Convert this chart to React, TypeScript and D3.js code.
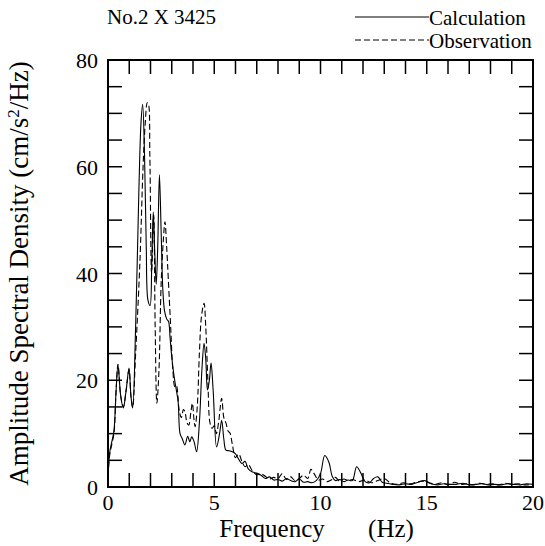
import React from "react";
import * as d3 from "d3";

const calcFreq = [0, 0.08, 0.18, 0.28, 0.38, 0.47, 0.6, 0.72, 0.85, 0.99, 1.08, 1.16, 1.3, 1.45, 1.55, 1.63, 1.72, 1.8, 1.88, 1.98, 2.06, 2.13, 2.2, 2.27, 2.34, 2.42, 2.5, 2.58, 2.66, 2.76, 2.85, 2.92, 3.0, 3.1, 3.2, 3.3, 3.39, 3.5, 3.62, 3.75, 3.85, 3.94, 4.05, 4.17, 4.3, 4.42, 4.52, 4.6, 4.68, 4.77, 4.85, 4.95, 5.11, 5.25, 5.35, 5.45, 5.55, 5.7, 5.85,
  6.0, 6.15, 6.3, 6.45, 6.6, 6.8, 7.0, 7.2, 7.4, 7.6, 7.8, 8.0, 8.2, 8.4, 8.6, 8.8, 9.0, 9.2, 9.4, 9.6, 9.8, 10.0, 10.2, 10.4, 10.55, 10.7, 10.9, 11.1, 11.3, 11.5, 11.7, 11.9, 12.1, 12.3, 12.5, 12.7, 12.9, 13.1, 13.4, 13.7, 14.0, 14.3, 14.6, 14.9, 15.2, 15.5, 15.8, 16.1, 16.4, 16.7, 17.0, 17.3, 17.6, 17.9, 18.2, 18.5, 18.8, 19.1, 19.4, 19.7, 20];
const calcValues = [2, 6.5, 8.5, 10.5, 18, 22.8, 17, 14.8, 18, 22.3, 17, 14.8, 30, 55, 68, 71.7, 62, 45, 35, 34, 42, 51.5, 44, 38, 45, 58.5, 48, 37, 33, 31.5, 31, 28, 24.4, 21, 18.5, 16, 10, 9, 7.9, 9.5, 8.5, 9.4, 8.5, 6.6, 12, 22, 26.9, 24, 18.2, 20, 23.2, 18, 7.5, 10, 12.5, 9, 6.9, 6.8, 6.6,
  6.2, 5.2, 4.4, 4.8, 3.4, 2.8, 2.6, 2.2, 1.6, 1.9, 1.3, 1.4, 1.1, 1.6, 1.2, 1.0, 1.5, 0.9, 1.0, 0.8, 1.2, 2.5, 5.9, 4.6, 2.0, 1.2, 1.4, 1.0, 1.3, 1.2, 3.8, 2.6, 1.0, 0.8, 1.6, 1.9, 0.9, 0.7, 0.5, 0.4, 0.6, 0.5, 0.9, 1.2, 0.6, 0.4, 0.6, 0.5, 0.5, 0.7, 0.4, 0.5, 0.6, 0.4, 0.5, 0.4, 0.6, 0.5, 0.4, 0.6, 0.5];

const obsFreq = [0, 0.08, 0.18, 0.28, 0.38, 0.47, 0.6, 0.72, 0.85, 0.99, 1.08, 1.16, 1.3, 1.5, 1.65, 1.75, 1.85, 1.9, 1.97, 2.05, 2.15, 2.22, 2.3, 2.4, 2.5, 2.6, 2.68, 2.76, 2.84, 2.95, 3.05, 3.15, 3.22, 3.27, 3.35, 3.45, 3.55, 3.62, 3.72, 3.8, 3.9, 3.97, 4.05, 4.1, 4.2, 4.3, 4.4, 4.52, 4.6, 4.7, 4.8, 4.9, 5.0, 5.1, 5.2, 5.35, 5.45, 5.55, 5.65, 5.74, 5.85,
  6.0, 6.15, 6.3, 6.45, 6.6, 6.8, 7.0, 7.2, 7.4, 7.6, 7.8, 8.0, 8.2, 8.4, 8.6, 8.8, 9.0, 9.2, 9.4, 9.55, 9.7, 9.9, 10.1, 10.3, 10.5, 10.7, 10.9, 11.1, 11.3, 11.5, 11.8, 12.1, 12.4, 12.7, 13.0, 13.3, 13.6, 13.9, 14.2, 14.5, 14.8, 15.1, 15.4, 15.7, 16.0, 16.3, 16.6, 16.9, 17.2, 17.5, 17.8, 18.1, 18.4, 18.7, 19.0, 19.3, 19.6, 20];
const obsValues = [2, 6, 8, 10, 18, 23, 17, 15, 18, 22, 17, 15, 25, 42, 60, 68, 72, 71.8, 62, 40, 51, 30, 15.7, 22, 38, 46, 49.7, 45, 38.8, 30, 22, 18.8, 19, 18, 14.4, 13, 14.5, 14.1, 12, 11.6, 14, 15.7, 12.5, 11.3, 15, 25, 32, 34.4, 30, 20, 12, 11, 11.5, 10, 12, 16.6, 13, 12, 10.5, 10.1, 8,
  5.5, 6.2, 4.8, 3.8, 4.2, 3.0, 2.3, 2.5, 2.0, 1.5, 1.8, 1.6, 2.5, 1.4, 1.9, 1.2, 1.6, 2.2, 1.6, 3.3, 2.5, 1.3, 1.5, 1.0, 1.3, 1.8, 1.1, 1.5, 1.2, 1.4, 1.0, 1.3, 0.8, 1.2, 1.6, 0.7, 0.5, 0.8, 0.6, 0.9, 1.1, 0.8, 0.5, 0.8, 0.4, 0.9, 0.5, 0.6, 0.4, 0.7, 0.5, 0.6, 0.4, 0.7, 0.5, 0.6, 0.4, 0.5];

const xTickLabels = [0, 5, 10, 15, 20];
const yTickLabels = [0, 20, 40, 60, 80];
const titleText = "No.2 X 3425";
const seriesNames = ["Calculation", "Observation"];

const W = 545, H = 546;
const L = 108, R = 533, T = 60, B = 487;
const FONT = '"Liberation Serif"';
const ff = { fontFamily: FONT };

export default function App() {
  const x = d3.scaleLinear().domain([0, 20]).range([L, R]);
  const y = d3.scaleLinear().domain([0, 80]).range([B, T]);
  const line = d3.line<[number, number]>()
    .x(d => x(d[0]))
    .y(d => y(Math.max(0, d[1])))
    .curve(d3.curveCatmullRom.alpha(0.5));
  const calcPts: [number, number][] = calcFreq.map((f, i) => [f, calcValues[i]]);
  const obsPts: [number, number][] = obsFreq.map((f, i) => [f, obsValues[i]]);
  const xMinor = d3.range(1, 20, 1);
  const yMinor = d3.range(5, 80, 5);
  const tk = 14;
  return (
    <svg width={W} height={H} style={{ display: "block", position: "absolute", left: 0, top: 0 }}>
      <rect width={W} height={H} fill="#fff" />
      <defs>
        <clipPath id="plot"><rect x={L} y={T} width={R - L} height={B - T} /></clipPath>
      </defs>
      <text x={107} y={24} style={ff} fontSize={21}>{titleText}</text>
      <line x1={355} x2={429} y1={17} y2={17} stroke="#000" strokeWidth={1} />
      <text x={429} y={25} style={ff} fontSize={21}>{seriesNames[0]}</text>
      <line x1={355} x2={429} y1={40} y2={40} stroke="#000" strokeWidth={1} strokeDasharray="6,3" />
      <text x={429} y={48} style={ff} fontSize={21}>{seriesNames[1]}</text>

      {xMinor.map(v => (
        <g key={"xt" + v}>
          <line x1={x(v)} x2={x(v)} y1={B} y2={B - tk} stroke="#000" strokeWidth={1.5} />
          <line x1={x(v)} x2={x(v)} y1={T} y2={T + tk} stroke="#000" strokeWidth={1.5} />
        </g>
      ))}
      {yMinor.map(v => (
        <g key={"yt" + v}>
          <line x1={L} x2={L + tk} y1={y(v)} y2={y(v)} stroke="#000" strokeWidth={1.5} />
          <line x1={R} x2={R - tk} y1={y(v)} y2={y(v)} stroke="#000" strokeWidth={1.5} />
        </g>
      ))}
      <g clipPath="url(#plot)">
        <path d={line(obsPts) || ""} fill="none" stroke="#000" strokeWidth={1.1} strokeDasharray="6,3" />
        <path d={line(calcPts) || ""} fill="none" stroke="#000" strokeWidth={1.1} />
      </g>
      <rect x={L} y={T} width={R - L} height={B - T} fill="none" stroke="#000" strokeWidth={2} />

      {xTickLabels.map(v => (
        <text key={"xl" + v} x={x(v)} y={510} textAnchor="middle" style={ff} fontSize={22}>{v}</text>
      ))}
      {yTickLabels.map(v => (
        <text key={"yl" + v} x={L - 10} y={y(v) + 8} textAnchor="end" style={ff} fontSize={22}>{v}</text>
      ))}
      <text x={272} y={537} textAnchor="middle" style={ff} fontSize={25}>Frequency</text>
      <text x={391} y={537} textAnchor="middle" style={ff} fontSize={25}>(Hz)</text>
      <text transform={`translate(28, ${(T + B) / 2}) rotate(-90)`} textAnchor="middle" style={ff} fontSize={27}>
        Amplitude Spectral Density (cm/s<tspan dy={-9} fontSize={17}>2</tspan><tspan dy={9}>/Hz)</tspan>
      </text>
    </svg>
  );
}
